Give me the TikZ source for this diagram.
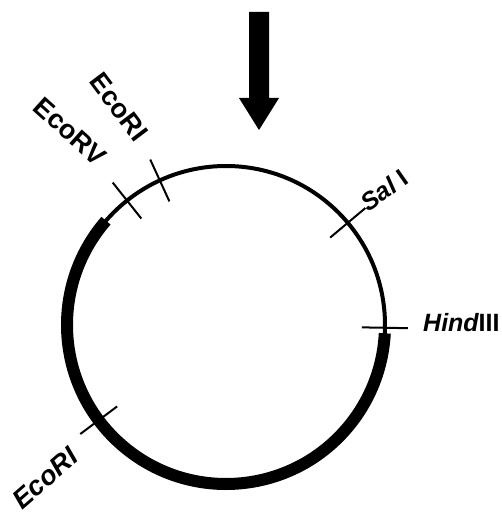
\documentclass[tikz,border=0pt]{standalone}
\usepackage{fontspec}
\setmainfont{Liberation Sans}
\begin{document}
\begin{tikzpicture}[x=1pt,y=1pt,
  lbl/.style={inner sep=0pt,font=\fontsize{25}{30}\selectfont\bfseries},
  biglbl/.style={inner sep=0pt,font=\fontsize{27}{32}\selectfont\bfseries},
  tick/.style={line width=2pt},
  thin/.style={line width=4pt},
  thick/.style={line width=12pt}]
\useasboundingbox (0,0) rectangle (502,515);
\coordinate (c) at (226,190);
% circle
\draw[thin] (c) circle[radius=159];
\draw[thick] ([shift={(139:159)}]c) arc[start angle=139,end angle=357,radius=159];
% ticks
\foreach \nm/\a in {ecorv/128.5, ecoritop/114.6, sal/40, hind/-1, ecoribot/216.8}{
  \coordinate (\nm-in) at ([shift={(\a:136)}]c);
  \coordinate (\nm-out) at ([shift={(\a:182)}]c);
  \draw[tick] (\nm-in) -- (\nm-out);
}
% labels
\node[biglbl,rotate=-42] (lEcoRV) at (70,383) {EcoRV};
\node[biglbl,rotate=-53] (lEcoRItop) at (119,408) {EcoRI};
\node[lbl,rotate=35] (lSal) at (384,325) {\itshape Sal\upshape\ I};
\node[lbl,anchor=base west] (lHind) at (423,183) {\itshape Hind\upshape III};
\node[biglbl,rotate=41] (lEcoRIbot) at (45,37) {\itshape EcoRI};
% arrow
\fill (249,503) -- (269,503) -- (269,417) -- (279,417) -- (259,385) -- (239,417) -- (249,417) -- cycle;
\end{tikzpicture}
\end{document}
